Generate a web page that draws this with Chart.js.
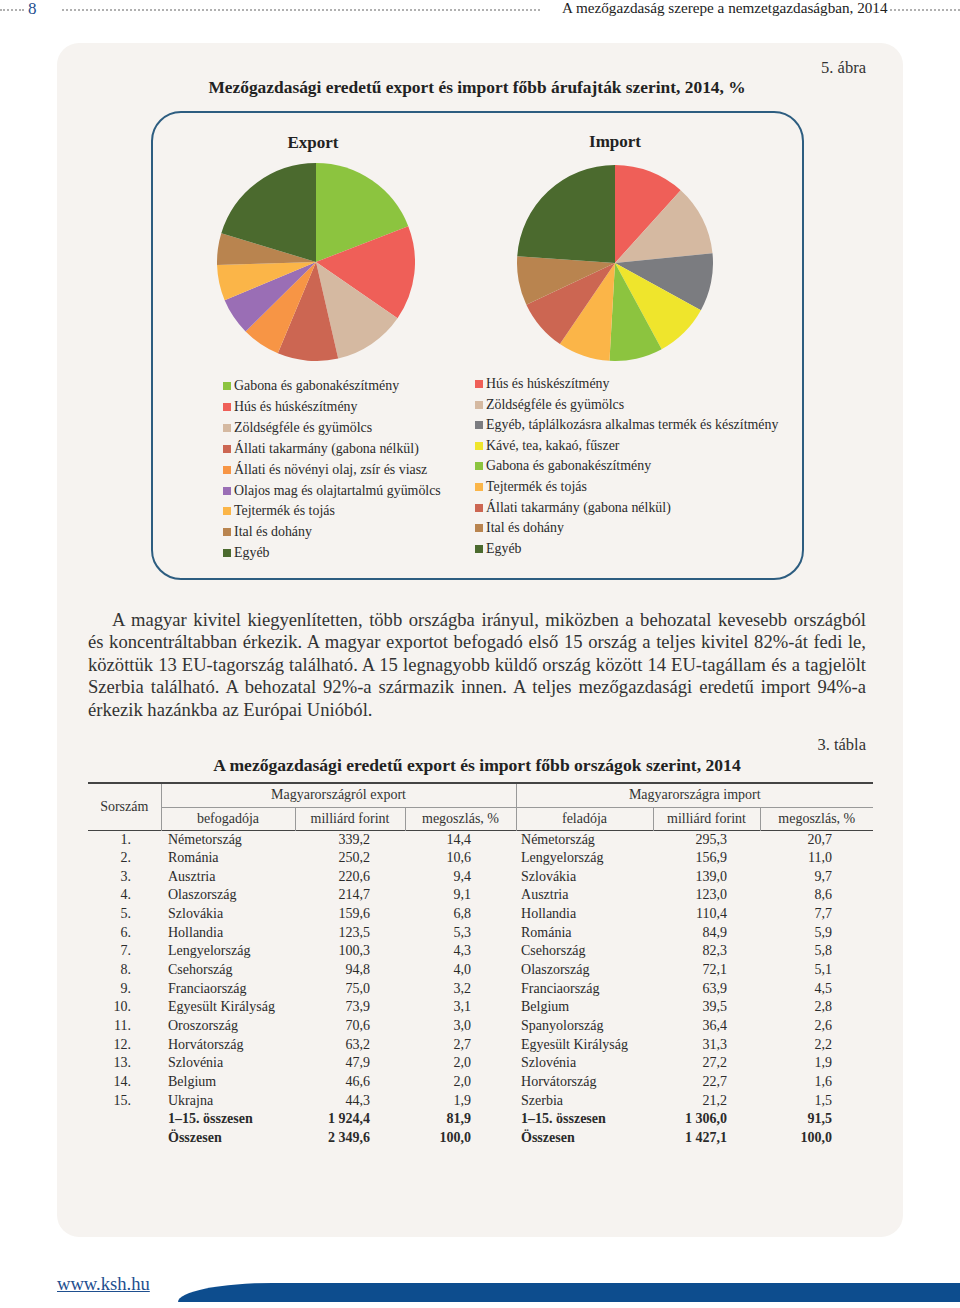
<!DOCTYPE html>
<html lang="hu">
<head>
<meta charset="utf-8">
<script src="https://cdn.jsdelivr.net/npm/chart.js@4.4.1/dist/chart.umd.min.js"></script>
<style>
  html, body { margin: 0; padding: 0; background: #fff; }
  body { width: 960px; height: 1308px; position: relative; overflow: hidden;
         font-family: "Liberation Serif", "DejaVu Serif", serif; color: #2b2b2b; }
  .abs { position: absolute; white-space: nowrap; }
  .dots { position: absolute; height: 0; border-top: 2px dotted #b0b0b0; }
  #panel { position: absolute; left: 57px; top: 43px; width: 846px; height: 1194px;
           background: #f6f3f0; border-radius: 22px; }
  #chartbox { position: absolute; left: 151px; top: 111px; width: 649px; height: 465px;
              border: 2px solid #2d5d80; border-radius: 30px; }
  .leg { position: absolute; font-size: 13.9px; line-height: 18px; white-space: nowrap; }
  .leg span.sq { display: inline-block; width: 8px; height: 8px; margin-right: 3px; vertical-align: 0px; }
  .para { position: absolute; left: 88px; width: 778px; font-size: 18.6px; line-height: 22px;
          text-align: justify; text-align-last: justify; white-space: nowrap; color: #333; }
  table { position: absolute; left: 88px; top: 782px; border-collapse: collapse; table-layout: fixed;
          font-size: 14px; width: 785px; }
  td { padding: 0; white-space: nowrap; overflow: visible; }
  thead td { text-align: center; color: #333; }
  tbody td { height: 18.65px; line-height: 18.65px; }
</style>
</head>
<body>
<div class="dots" style="left:0; top:9px; width:24px;"></div>
<div class="abs" style="left:28px; top:-1px; font-size:17px; color:#1f4f8f;">8</div>
<div class="dots" style="left:62px; top:9px; width:478px;"></div>
<div class="abs" style="left:562px; top:-1px; font-size:15.2px; color:#222;">A mezőgazdaság szerepe a nemzetgazdaságban, 2014</div>
<div class="dots" style="left:890px; top:9px; width:70px;"></div>

<div id="panel"></div>
<div class="abs" style="right:94px; top:58px; font-size:16.5px; color:#333;">5. ábra</div>
<div class="abs" style="left:0; width:954px; text-align:center; top:77px; font-size:17.4px; font-weight:bold; color:#222;">Mezőgazdasági eredetű export és import főbb árufajták szerint, 2014, %</div>

<div id="chartbox"></div>
<div class="abs" style="left:213px; width:200px; text-align:center; top:133px; font-size:17px; font-weight:bold; color:#222;">Export</div>
<div class="abs" style="left:515px; width:200px; text-align:center; top:132px; font-size:17px; font-weight:bold; color:#222;">Import</div>

<canvas id="exportPie" width="198" height="198" style="position:absolute; left:217px; top:163px;"></canvas>
<canvas id="importPie" width="196" height="196" style="position:absolute; left:517px; top:165px;"></canvas>

<div id="exportLegend"></div>
<div id="importLegend"></div>

<div class="para" style="top:609px; left:112px; width:754px;">A magyar kivitel kiegyenlítetten, több országba irányul, miközben a behozatal kevesebb országból</div>
<div class="para" style="top:631px;">és koncentráltabban érkezik. A magyar exportot befogadó első 15 ország a teljes kivitel 82%-át fedi le,</div>
<div class="para" style="top:653.5px;">közöttük 13 EU-tagország található. A 15 legnagyobb küldő ország között 14 EU-tagállam és a tagjelölt</div>
<div class="para" style="top:676px;">Szerbia található. A behozatal 92%-a származik innen. A teljes mezőgazdasági eredetű import 94%-a</div>
<div class="para" style="top:699px; text-align-last:left;">érkezik hazánkba az Európai Unióból.</div>

<div class="abs" style="right:94px; top:735px; font-size:16.5px; color:#333;">3. tábla</div>
<div class="abs" style="left:0; width:954px; text-align:center; top:755px; font-size:17.6px; font-weight:bold; color:#222;">A mezőgazdasági eredetű export és import főbb országok szerint, 2014</div>

<table id="tbl">
  <colgroup>
    <col style="width:73px"><col style="width:134px"><col style="width:110px"><col style="width:111px">
    <col style="width:137px"><col style="width:107px"><col style="width:113px">
  </colgroup>
  <thead>
    <tr style="height:24px; border-top:2px solid #444;">
      <td rowspan="2" style="border-right:1px solid #999;">Sorszám</td>
      <td colspan="3" style="border-bottom:1px solid #999; border-right:1px solid #999;">Magyarországról export</td>
      <td colspan="3" style="border-bottom:1px solid #999;">Magyarországra import</td>
    </tr>
    <tr style="height:23px; border-bottom:1.5px solid #444;">
      <td style="border-right:1px solid #999;">befogadója</td>
      <td style="border-right:1px solid #999;">milliárd forint</td>
      <td style="border-right:1px solid #999;">megoszlás, %</td>
      <td style="border-right:1px solid #999;">feladója</td>
      <td style="border-right:1px solid #999;">milliárd forint</td>
      <td>megoszlás, %</td>
    </tr>
  </thead>
  <tbody id="tbody"></tbody>
</table>

<div class="abs" style="left:57px; top:1273px; font-size:18.6px; color:#1f4f8f; text-decoration:underline;">www.ksh.hu</div>
<div style="position:absolute; left:178px; top:1283px; width:782px; height:19px; background:#0d4d8e; border-top-left-radius:95px 19px;"></div>

<script>
// pie data (%)
const exportLabels = ['Gabona és gabonakészítmény', 'Hús és húskészítmény', 'Zöldségféle és gyümölcs',
  'Állati takarmány (gabona nélkül)', 'Állati és növényi olaj, zsír és viasz', 'Olajos mag és olajtartalmú gyümölcs',
  'Tejtermék és tojás', 'Ital és dohány', 'Egyéb'];
const exportValues = [19.1, 15.5, 11.8, 9.9, 6.3, 6.1, 5.8, 5.2, 20.3];
const exportColors = ['#8cc43f', '#ef5f58', '#d5b9a1', '#cc6652', '#f79545', '#9a6eb5', '#fbb548', '#b9844f', '#4b6a2e'];

const importLabels = ['Hús és húskészítmény', 'Zöldségféle és gyümölcs', 'Egyéb, táplálkozásra alkalmas termék és készítmény',
  'Kávé, tea, kakaó, fűszer', 'Gabona és gabonakészítmény', 'Tejtermék és tojás', 'Állati takarmány (gabona nélkül)',
  'Ital és dohány', 'Egyéb'];
const importValues = [11.7, 11.7, 9.6, 9.1, 8.8, 8.6, 8.5, 8.1, 23.9];
const importColors = ['#ef5f58', '#d5b9a1', '#7b7c80', '#efe52c', '#8cc43f', '#fbb548', '#cc6652', '#b9844f', '#4b6a2e'];

// table data
const ranks = ['1.', '2.', '3.', '4.', '5.', '6.', '7.', '8.', '9.', '10.', '11.', '12.', '13.', '14.', '15.'];
const exportCountries = ['Németország', 'Románia', 'Ausztria', 'Olaszország', 'Szlovákia', 'Hollandia', 'Lengyelország',
  'Csehország', 'Franciaország', 'Egyesült Királyság', 'Oroszország', 'Horvátország', 'Szlovénia', 'Belgium', 'Ukrajna'];
const exportBn = ['339,2', '250,2', '220,6', '214,7', '159,6', '123,5', '100,3', '94,8', '75,0', '73,9', '70,6', '63,2', '47,9', '46,6', '44,3'];
const exportShare = ['14,4', '10,6', '9,4', '9,1', '6,8', '5,3', '4,3', '4,0', '3,2', '3,1', '3,0', '2,7', '2,0', '2,0', '1,9'];
const importCountries = ['Németország', 'Lengyelország', 'Szlovákia', 'Ausztria', 'Hollandia', 'Románia', 'Csehország',
  'Olaszország', 'Franciaország', 'Belgium', 'Spanyolország', 'Egyesült Királyság', 'Szlovénia', 'Horvátország', 'Szerbia'];
const importBn = ['295,3', '156,9', '139,0', '123,0', '110,4', '84,9', '82,3', '72,1', '63,9', '39,5', '36,4', '31,3', '27,2', '22,7', '21,2'];
const importShare = ['20,7', '11,0', '9,7', '8,6', '7,7', '5,9', '5,8', '5,1', '4,5', '2,8', '2,6', '2,2', '1,9', '1,6', '1,5'];
const totalRows = [
  ['1–15. összesen', '1 924,4', '81,9', '1–15. összesen', '1 306,0', '91,5'],
  ['Összesen', '2 349,6', '100,0', 'Összesen', '1 427,1', '100,0']
];

function makePie(id, labels, values, colors) {
    const ctx = document.getElementById(id).getContext('2d');
    return new Chart(ctx, {
        type: 'pie',
        data: {
            labels: labels,
            datasets: [{
                data: values,
                backgroundColor: colors,
                borderWidth: 0
            }]
        },
        options: {
            responsive: false,
            animation: false,
            layout: { padding: 0 },
            plugins: {
                legend: { display: false },
                tooltip: { enabled: false }
            }
        }
    });
}

function makeLegend(id, labels, colors, left, top, step) {
    let html = '';
    labels.forEach((label, i) => {
        html += `<div class="leg" style="left:${left}px; top:${top + i * step}px;">` +
            `<span class="sq" style="background:${colors[i]}"></span>${label}</div>`;
    });
    document.getElementById(id).innerHTML = html;
}

function fillTable() {
    let html = '';
    const cell = (txt, style) => `<td style="${style}">${txt}</td>`;
    ranks.forEach((r, i) => {
        html += '<tr>' +
            cell(r, 'text-align:right; padding-right:30px;') +
            cell(exportCountries[i], 'padding-left:7px;') +
            cell(exportBn[i], 'text-align:right; padding-right:35px;') +
            cell(exportShare[i], 'text-align:right; padding-right:45px;') +
            cell(importCountries[i], 'padding-left:5px;') +
            cell(importBn[i], 'text-align:right; padding-right:33px;') +
            cell(importShare[i], 'text-align:right; padding-right:41px;') +
            '</tr>';
    });
    totalRows.forEach(t => {
        html += '<tr style="font-weight:bold;">' +
            cell('', '') +
            cell(t[0], 'padding-left:7px;') +
            cell(t[1], 'text-align:right; padding-right:35px;') +
            cell(t[2], 'text-align:right; padding-right:45px;') +
            cell(t[3], 'padding-left:5px;') +
            cell(t[4], 'text-align:right; padding-right:33px;') +
            cell(t[5], 'text-align:right; padding-right:41px;') +
            '</tr>';
    });
    document.getElementById('tbody').innerHTML = html;
}

makePie('exportPie', exportLabels, exportValues, exportColors);
makePie('importPie', importLabels, importValues, importColors);
makeLegend('exportLegend', exportLabels, exportColors, 223, 377, 20.9);
makeLegend('importLegend', importLabels, importColors, 475, 375, 20.6);
fillTable();
</script>
</body>
</html>
